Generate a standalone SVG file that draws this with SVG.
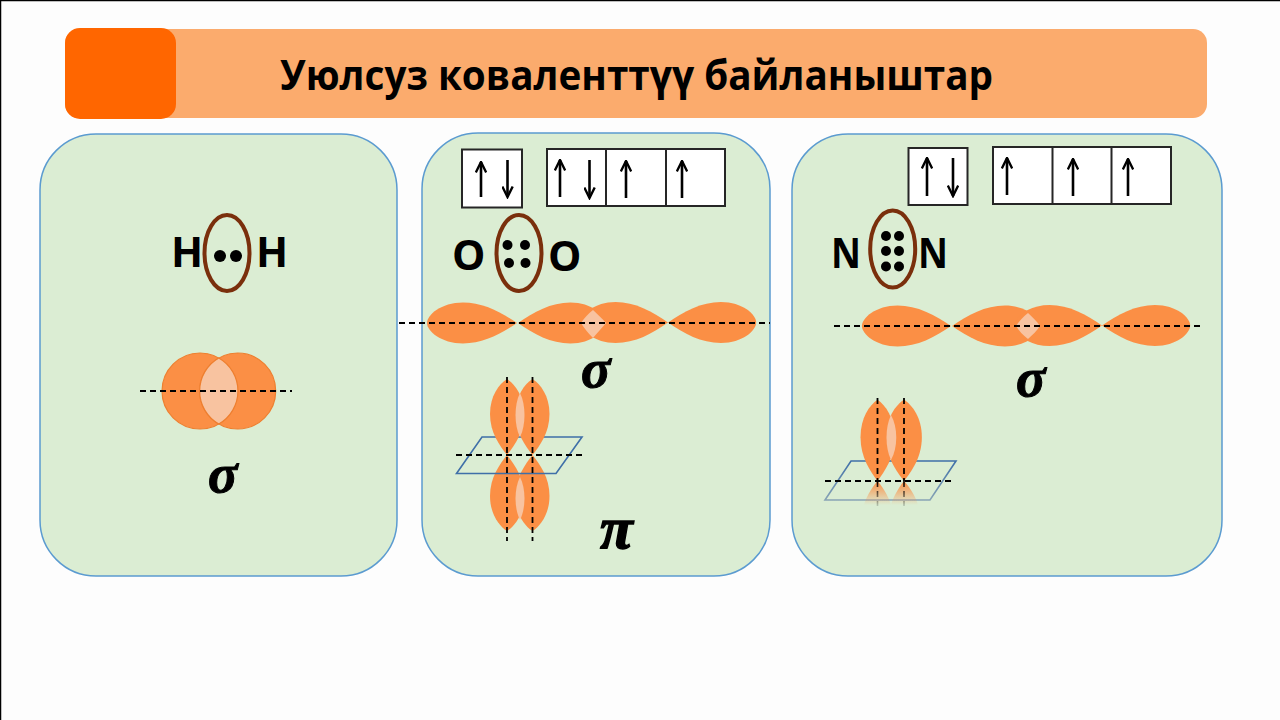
<svg xmlns="http://www.w3.org/2000/svg" width="1280" height="720" viewBox="0 0 1280 720">
<style>
.panel{fill:#dbedd3;stroke:#5b9bd0;stroke-width:1.5}
.box{fill:#fff;stroke:#262626;stroke-width:2}
.arr{stroke:#000;stroke-width:2.6;fill:none;marker-end:url(#head)}
.ell{fill:none;stroke:#7a2f0c;stroke-width:4}
.dot{fill:#000}
.atom{font-family:"Open Sans","Noto Sans",sans-serif;font-weight:700;font-size:42px;fill:#000}
.greek{font-family:"Liberation Serif",serif;font-weight:700;font-style:italic;font-size:55px;fill:#000;stroke:#000;stroke-width:1}
.pi{font-size:60px;stroke-width:1.4}
.dash{stroke:#000;stroke-width:1.8;stroke-dasharray:6 4;fill:none}
.lobe{fill:#fb8f45}
.light{fill:#f8c3a0}
.plane{fill:none;stroke:#3f6fa8;stroke-width:1.6}
</style>
<defs>
<marker id="head" viewBox="0 0 14 12" refX="12.5" refY="6" markerUnits="userSpaceOnUse" markerWidth="14" markerHeight="12" orient="auto"><path d="M2,0.8 L12.5,6 L2,11.2" fill="none" stroke="#000" stroke-width="2.4"/></marker>
<path id="hlobe" d="M0,0 C16,-11 34,-20.500 54,-20.500 C76,-20.500 90,-8 90,0 C90,8 76,20.500 54,20.500 C34,20.500 16,11 0,0Z"/>
<path id="vlobe" d="M0,0 C-7,-9 -17,-22 -17,-41 C-17,-59 -8,-71 0,-76 C8,-71 17,-59 17,-41 C17,-22 7,-9 0,0Z"/>
<linearGradient id="fade" x1="0" y1="0" x2="0" y2="1"><stop offset="0" stop-color="#fb8f45"/><stop offset="1" stop-color="#fb8f45" stop-opacity="0"/></linearGradient>
<linearGradient id="fadeLine" gradientUnits="userSpaceOnUse" x1="0" y1="481" x2="0" y2="508"><stop offset="0" stop-color="#000"/><stop offset="1" stop-color="#000" stop-opacity="0.1"/></linearGradient>
<linearGradient id="fadePlane" gradientUnits="userSpaceOnUse" x1="0" y1="461" x2="0" y2="501"><stop offset="0" stop-color="#3f6fa8"/><stop offset="1" stop-color="#8aa5b5"/></linearGradient>
</defs>
<rect width="1280" height="720" fill="#fdfdfd"/>
<path d="M0.5,720V0.5H1280" fill="none" stroke="#000" stroke-width="1.5"/>

<g id="title">
<rect x="65" y="29" width="1142" height="89" rx="14" fill="#fbab6d"/>
<rect x="65" y="28" width="111" height="91" rx="15" fill="#ff6600"/>
<text x="636.500" y="90" text-anchor="middle" font-family="'Open Sans','Noto Sans',sans-serif" font-weight="700" font-size="42" textLength="713" lengthAdjust="spacingAndGlyphs" fill="#000">Уюлсуз коваленттүү байланыштар</text>
</g>

<g id="panel-h2">
<rect class="panel" x="40" y="134" width="357" height="442" rx="56"/>
<text class="atom" x="171" y="267">H</text><text class="atom" x="256" y="267">H</text>
<ellipse class="ell" cx="227" cy="253" rx="22.500" ry="38"/>
<circle class="dot" cx="220" cy="256" r="6"/><circle class="dot" cx="236" cy="256" r="6"/>
<circle cx="200" cy="391" r="38" fill="#fb8f45" stroke="#ee7f2f" stroke-width="1.2"/>
<circle cx="237.700" cy="391" r="38" fill="#fb8f45" stroke="#ee7f2f" stroke-width="1.2"/>
<path d="M218.800,358 A38,38 0 0 1 218.800,424 A38,38 0 0 1 218.800,358Z" fill="#f8c3a0" stroke="#ee7f2f" stroke-width="1.2"/>
<text class="greek" x="208" y="492">σ</text>
</g>

<g id="panel-o2">
<rect class="panel" x="422" y="133" width="348" height="443" rx="56"/>
<rect class="box" x="462" y="149.500" width="60" height="58"/>
<rect class="box" x="547" y="149" width="178" height="57"/>
<path class="box" d="M606,149V206M666,149V206" fill="none"/>
<path class="arr" d="M481,197V162"/><path class="arr" d="M507.500,160V197"/>
<path class="arr" d="M560,197V160"/><path class="arr" d="M589.500,160V198"/>
<path class="arr" d="M626,198V161"/><path class="arr" d="M682,198V161"/>
<text class="atom" x="452" y="270">O</text><text class="atom" x="548" y="271">O</text>
<ellipse class="ell" cx="519" cy="253" rx="22.500" ry="38"/>
<circle class="dot" cx="507.500" cy="245" r="5"/><circle class="dot" cx="525" cy="245" r="5"/>
<circle class="dot" cx="509" cy="263" r="5"/><circle class="dot" cx="525.500" cy="263" r="5"/>
<use href="#hlobe" class="lobe" transform="translate(517,323) scale(-1,1)"/>
<use href="#hlobe" class="lobe" transform="translate(518,323) scale(0.97,1)"/>
<use href="#hlobe" class="lobe" transform="translate(668,322.500) scale(-0.97,1)"/>
<use href="#hlobe" class="lobe" transform="translate(668,322.500) scale(0.98,1)"/>
<path class="light" d="M593,310 C597,314 602,318 606,323 C602,328 597,333 593,338 C588,333 584,328 581,323 C584,318 588,314 593,310Z"/>
<text class="greek" x="581" y="387">σ</text>
<use href="#vlobe" class="lobe" transform="translate(507,455) scale(1,-1)"/>
<use href="#vlobe" class="lobe" transform="translate(532.500,455) scale(1,-1)"/>
<path class="light" d="M520,477 C514,489 514,508 520,520 C526,508 526,489 520,477Z"/>
<path class="plane" d="M482,437H582L556,473.500H456.500Z"/>
<use href="#vlobe" class="lobe" transform="translate(507,455)"/>
<use href="#vlobe" class="lobe" transform="translate(532.500,455)"/>
<path class="light" d="M520,393 C514,405 514,425 520,437 C526,425 526,405 520,393Z"/>
<text class="greek pi" x="600" y="548">π</text>
</g>

<g id="panel-n2">
<rect class="panel" x="792" y="134" width="430" height="442" rx="56"/>
<rect class="box" x="908.500" y="148" width="59" height="57"/>
<rect class="box" x="993" y="147" width="178" height="57"/>
<path class="box" d="M1052.500,147V204M1111.500,147V204" fill="none"/>
<path class="arr" d="M927,196V158"/><path class="arr" d="M953,158V196"/>
<path class="arr" d="M1007,195V158"/><path class="arr" d="M1073,196V159"/><path class="arr" d="M1128,196V159"/>
<text class="atom" x="831" y="268" textLength="30" lengthAdjust="spacingAndGlyphs">N</text><text class="atom" x="918" y="268" textLength="30" lengthAdjust="spacingAndGlyphs">N</text>
<ellipse class="ell" cx="892.700" cy="249" rx="22.500" ry="38.500"/>
<circle class="dot" cx="886" cy="236" r="5"/><circle class="dot" cx="899" cy="236" r="5"/>
<circle class="dot" cx="886" cy="251" r="5"/><circle class="dot" cx="899" cy="251" r="5"/>
<circle class="dot" cx="886" cy="266.500" r="5"/><circle class="dot" cx="899" cy="266.500" r="5"/>
<use href="#hlobe" class="lobe" transform="translate(951,326) scale(-0.99,1)"/>
<use href="#hlobe" class="lobe" transform="translate(952,326) scale(0.98,1)"/>
<use href="#hlobe" class="lobe" transform="translate(1102,325.500) scale(-0.97,1)"/>
<use href="#hlobe" class="lobe" transform="translate(1102,325.500) scale(0.98,1)"/>
<path class="light" d="M1028,313 C1032,317 1037,321 1040,326 C1037,331 1032,335 1028,339 C1023,335 1019,331 1016,326 C1019,321 1023,317 1028,313Z"/>
<text class="greek" x="1016" y="396">σ</text>
<path d="M851,461H956L930,500H825Z" fill="none" stroke="url(#fadePlane)" stroke-width="1.6"/>
<path d="M877.500,481 C870,490 866,498 864,505 H891 C889,498 885,490 877.500,481Z M904,481 C897,490 893,498 891,505 H918 C916,498 912,490 904,481Z" fill="url(#fade)"/>
<use href="#vlobe" class="lobe" transform="translate(877.500,481) scale(1,1.07)"/>
<use href="#vlobe" class="lobe" transform="translate(904,481) scale(1.05,1.07)"/>
<path class="light" d="M891,415 C885,427 885,448 891,460 C898,448 898,427 891,415Z"/>
</g>

<g id="connectors">
<path class="dash" d="M140,391H292"/>
<path class="dash" d="M399,323H770"/>
<path class="dash" d="M507,377V541M532.500,377V541M456,455H582"/>
<path class="dash" d="M834,326H1204"/>
<path class="dash" d="M877.500,398V481M904,398V481M825,481H953"/>
<path d="M877.500,481V506M904,481V506" stroke="url(#fadeLine)" stroke-width="1.6" stroke-dasharray="6 4" fill="none"/>
</g>
</svg>
